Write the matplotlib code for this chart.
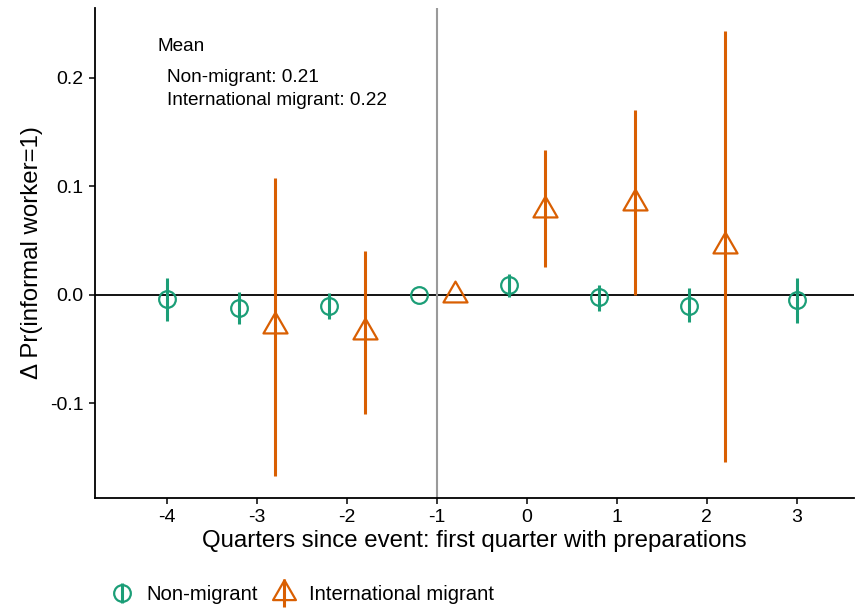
import numpy as np
import matplotlib
matplotlib.use("Agg")
import matplotlib.pyplot as plt
from matplotlib.path import Path
from matplotlib.lines import Line2D
from matplotlib.legend_handler import HandlerTuple

plt.rcParams['font.family'] = ['Liberation Sans', 'DejaVu Sans']

# ---- data ----
quarters = [-4, -3, -2, -1, 0, 1, 2, 3]
nm_quarters = [-4, -3, -2, -1, 0, 1, 2, 3]
nm_est = [-0.004, -0.012, -0.010, 0.000, 0.009, -0.002, -0.010, -0.005]
nm_lo = [-0.024, -0.027, -0.022, np.nan, -0.002, -0.015, -0.025, -0.026]
nm_hi = [0.016, 0.003, 0.002, np.nan, 0.019, 0.009, 0.006, 0.016]

im_quarters = [-3, -2, -1, 0, 1, 2]
im_est = [-0.029, -0.034, 0.000, 0.078, 0.085, 0.045]
im_lo = [-0.167, -0.110, np.nan, 0.026, 0.000, -0.154]
im_hi = [0.108, 0.040, np.nan, 0.134, 0.170, 0.243]

y_ticks = [-0.1, 0.0, 0.1, 0.2]
mean_lines = ["Non-migrant: 0.21", "International migrant: 0.22"]

GREEN = "#1B9E77"
ORANGE = "#D95F02"
DODGE = 0.2

# triangle marker centred on its centroid (like R pch 2)
tri = Path([(0, 1), (-0.866, -0.5), (0.866, -0.5), (0, 1)],
           [Path.MOVETO, Path.LINETO, Path.LINETO, Path.CLOSEPOLY])

fig = plt.figure(figsize=(8.55, 6.10), dpi=100)
ax = fig.add_axes([0.111, 0.184, 0.888, 0.803])

# dodge positions (single-group quarters stay centred)
both = set(nm_quarters) & set(im_quarters)
nm_x = np.array([q - DODGE if q in both else q for q in nm_quarters], float)
im_x = np.array([q + DODGE if q in both else q for q in im_quarters], float)

ax.axhline(0, color="black", lw=1.3, zorder=1)
ax.axvline(-1, color="#9a9a9a", lw=1.5, zorder=1)

ax.vlines(nm_x, nm_lo, nm_hi, color=GREEN, lw=2.2, zorder=2)
ax.vlines(im_x, im_lo, im_hi, color=ORANGE, lw=2.2, zorder=2)
ax.plot(nm_x, nm_est, ls="none", marker="o", ms=12, mfc="none",
        mec=GREEN, mew=1.6, zorder=3)
ax.plot(im_x, im_est, ls="none", marker=tri, ms=20, mfc="none",
        mec=ORANGE, mew=1.6, zorder=3)

ax.set_xlim(-4.8, 3.64)
ax.set_ylim(-0.187, 0.2645)
ax.set_xticks(quarters)
ax.set_xticklabels([str(q) for q in quarters])
ax.set_yticks(y_ticks)
ax.set_yticklabels([f"{v:.1f}" for v in y_ticks])
ax.tick_params(labelsize=14, length=4, width=1.1, colors="black", pad=4)
for s in ["top", "right"]:
    ax.spines[s].set_visible(False)
for s in ["left", "bottom"]:
    ax.spines[s].set_linewidth(1.3)

ax.set_xlabel("Quarters since event: first quarter with preparations",
              fontsize=17.3, labelpad=3)
ax.set_ylabel("Δ Pr(informal worker=1)", fontsize=17.3, labelpad=5)

ax.text(-4.1, 0.2286, "Mean", fontsize=13.7, va="center", ha="left")
ax.text(-4.0, 0.200, mean_lines[0], fontsize=13.7, va="center", ha="left")
ax.text(-4.0, 0.179, mean_lines[1], fontsize=13.7, va="center", ha="left")

# legend
h_nm = (Line2D([], [], ls="none", marker="|", ms=15, mew=2.2, color=GREEN),
        Line2D([], [], ls="none", marker="o", ms=12, mfc="none", mec=GREEN, mew=1.6))
h_im = (Line2D([], [], ls="none", marker="|", ms=20, mew=2.2, color=ORANGE),
        Line2D([], [], ls="none", marker=tri, ms=19, mfc="none", mec=ORANGE, mew=1.6))
fig.legend([h_nm, h_im], ["Non-migrant", "International migrant"],
           handler_map={tuple: HandlerTuple(ndivide=1, pad=0)},
           loc="center left", bbox_to_anchor=(0.105, 0.026), ncol=2, frameon=False,
           fontsize=14.6, handlelength=1.4, handletextpad=0.5, columnspacing=0.6)

fig.savefig("out.png", dpi=100)
